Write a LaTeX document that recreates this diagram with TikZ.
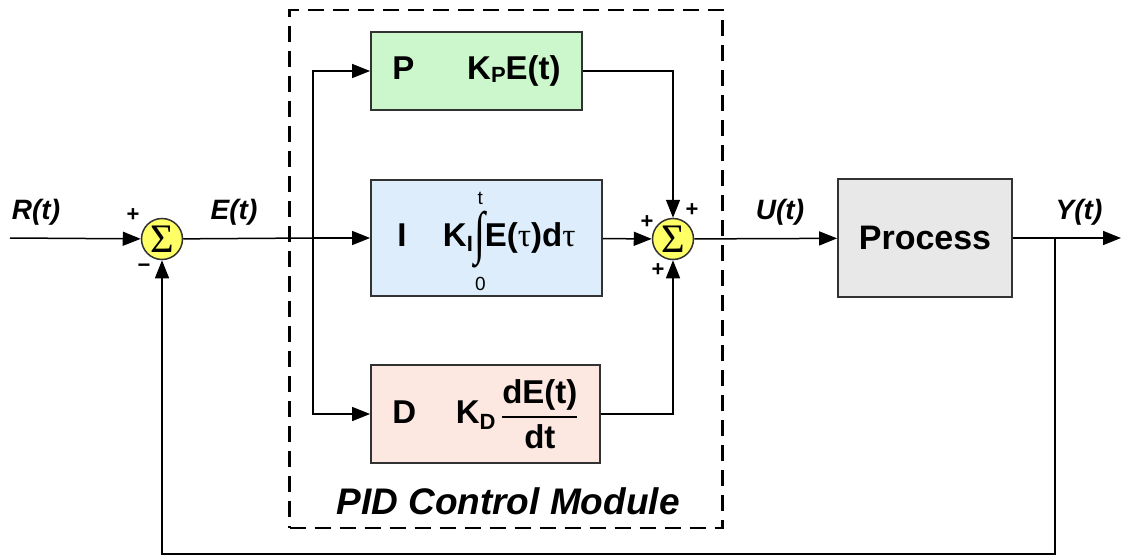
\documentclass[tikz,border=0pt]{standalone}
\usepackage{amsmath}
\usepackage{graphicx}
\usepackage{fontspec}
\setmainfont{Liberation Sans}
\newfontfamily\greekserif{Liberation Serif}
\usepackage{tikz}
\usetikzlibrary{arrows.meta, positioning, calc}

\definecolor{pgreen}{RGB}{204,247,204}
\definecolor{iblue}{RGB}{222,237,252}
\definecolor{dpink}{RGB}{252,232,225}
\definecolor{procgray}{RGB}{232,232,232}
\definecolor{sumyellow}{RGB}{255,255,102}
\definecolor{edgegray}{RGB}{50,50,50}

\newcommand{\lowsub}[2]{\raisebox{-#1}{\fontsize{22}{24}\selectfont #2}}
\newcommand{\tauup}{{\greekserif\mdseries τ}}
\newcommand{\limsize}{\mdseries\fontsize{19}{19}\selectfont}
\newcommand{\intzerot}{\smash{\begin{tabular}[c]{@{}c@{}}{\limsize t}\\[-4pt]\scalebox{1}[1.45]{\greekserif\mdseries\fontsize{40}{40}\selectfont ∫}\\[-3pt]{\limsize 0}\end{tabular}}}
\newcommand{\sumsign}{\scalebox{1.35}{\greekserif\fontsize{30}{30}\selectfont Σ}}

\begin{document}
\begin{tikzpicture}[x=1pt, y=-1pt, >={Triangle[length=18pt, width=14pt]}, line width=1.5pt,
  block/.style={draw=edgegray, line width=1.8pt, inner sep=0pt, font=\fontsize{33}{36}\selectfont\bfseries},
  sumnode/.style={circle, draw=edgegray, line width=1.5pt, fill=sumyellow, minimum size=41pt, inner sep=0pt},
  sig/.style={font=\fontsize{28}{30}\selectfont\bfseries\itshape},
  sgn/.style={font=\fontsize{22}{24}\selectfont\bfseries, inner sep=0pt}]
\useasboundingbox[fill=white] (0,0) rectangle (1123,559);
% the dashed frame of the controller
\node[draw, dash pattern=on 16pt off 9pt, line width=2.8pt, minimum width=433pt, minimum height=518pt] (pid) at (506,269) {};
\node[font=\fontsize{37}{40}\selectfont\bfseries\itshape] (pidlabel) at (508,501) {PID Control Module};
% summing junctions
\node[sumnode] (s1) at (162,239) {\sumsign};
\node[sumnode] (s2) at (673,239) {\sumsign};
% the three terms and the plant
\node[block, fill=pgreen, minimum width=211pt, minimum height=78pt] (P) at (476.5,71)
  {P\hspace{1.6em}K\lowsub{3pt}{P}E(t)};
\node[block, fill=iblue, minimum width=231pt, minimum height=116pt] (I) at (486.5,238)
  {I\hspace{1.1em}K\lowsub{5pt}{I}\hspace{2pt}\intzerot\hspace{-1pt}E(\tauup)d\tauup};
\node[block, fill=dpink, minimum width=229pt, minimum height=98pt] (D) at (485.5,414)
  {D\hspace{1.2em}K\lowsub{6pt}{D}\,$\genfrac{}{}{2pt}{0}{\mbox{dE(t)}}{\mbox{dt}}$};
\node[block, fill=procgray, minimum width=174pt, minimum height=118pt, font=\fontsize{34}{36}\selectfont\bfseries] (proc) at (925,238) {Process};
% branch and end points
\coordinate (in) at (10,238);
\coordinate (br) at (313,238);
\coordinate (tap) at (1055,238);
\coordinate (out) at (1121,238);
\coordinate (fb) at (1055,554);
% signal paths
\draw[->] (in) -- (s1);
\draw (s1) -- (br);
\draw[->] (br) -- (I);
\draw[->] (br) |- (P);
\draw[->] (br) |- (D);
\draw[->] (P) -| (s2);
\draw[->] (I) -- (s2);
\draw[->] (D) -| (s2);
\draw[->] (s2) -- (proc);
\draw (proc) -- (tap);
\draw[->] (tap) -- (out);
\draw[->] (tap) -- (fb) -| (s1);
% signal names
\node[sig] (rlabel) at (36,212) {R(t)};
\node[sig] (elabel) at (234,212) {E(t)};
\node[sig] (ulabel) at (780,212) {U(t)};
\node[sig] (ylabel) at (1079,212) {Y(t)};
% signs at the junctions
\node[sgn] (s1plus) at (133,215) {+};
\node[sgn] (s1minus) at (144,268) {−};
\node[sgn] (s2left) at (647,222) {+};
\node[sgn] (s2top) at (692,210) {+};
\node[sgn] (s2bot) at (658,270) {+};
\end{tikzpicture}
\end{document}
